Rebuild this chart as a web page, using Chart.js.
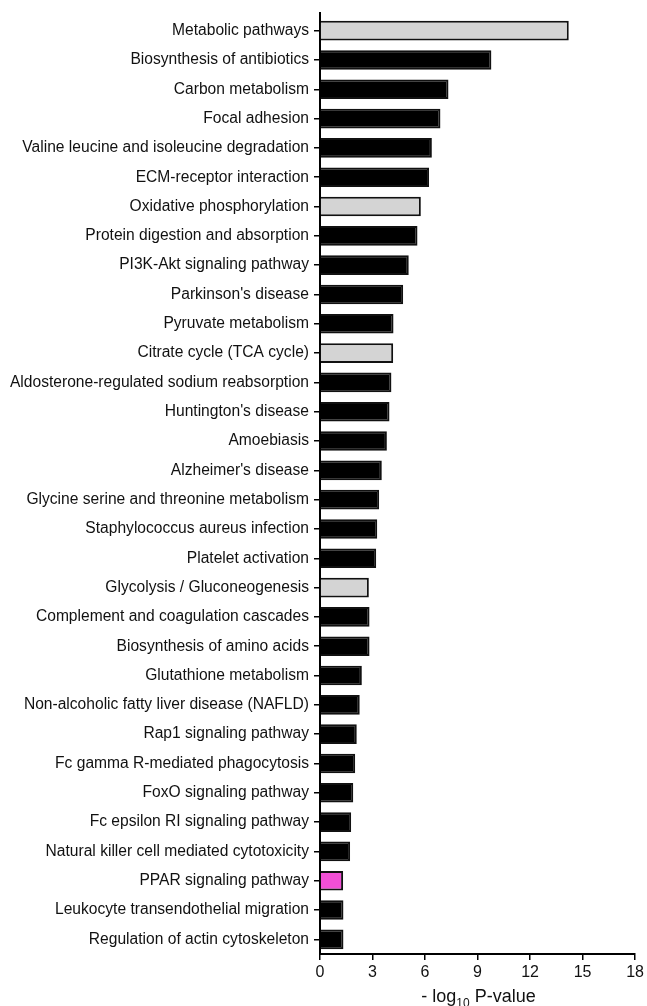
<!DOCTYPE html>
<html><head><meta charset="utf-8">
<script src="https://cdn.jsdelivr.net/npm/chart.js@4/dist/chart.umd.min.js"></script>
<style>html,body{margin:0;padding:0;background:#fff;}#wrap{width:647px;height:1006px;}</style>
</head><body><div id="wrap"><canvas id="c" width="647" height="1006"></canvas></div>
<script>
const categories = [
  'Metabolic pathways','Biosynthesis of antibiotics','Carbon metabolism','Focal adhesion',
  'Valine leucine and isoleucine degradation','ECM-receptor interaction','Oxidative phosphorylation',
  'Protein digestion and absorption','PI3K-Akt signaling pathway',"Parkinson's disease",
  'Pyruvate metabolism','Citrate cycle (TCA cycle)','Aldosterone-regulated sodium reabsorption',
  "Huntington's disease",'Amoebiasis',"Alzheimer's disease",'Glycine serine and threonine metabolism',
  'Staphylococcus aureus infection','Platelet activation','Glycolysis / Gluconeogenesis',
  'Complement and coagulation cascades','Biosynthesis of amino acids','Glutathione metabolism',
  'Non-alcoholic fatty liver disease (NAFLD)','Rap1 signaling pathway','Fc gamma R-mediated phagocytosis',
  'FoxO signaling pathway','Fc epsilon RI signaling pathway','Natural killer cell mediated cytotoxicity',
  'PPAR signaling pathway','Leukocyte transendothelial migration','Regulation of actin cytoskeleton'
];
const values = [
  14.21, 9.79, 7.34, 6.88, 6.39, 6.23, 5.76, 5.57, 5.07, 4.75,
  4.20, 4.18, 4.08, 3.97, 3.82, 3.53, 3.38, 3.27, 3.21, 2.79,
  2.83, 2.83, 2.39, 2.27, 2.10, 2.01, 1.90, 1.78, 1.72, 1.32,
  1.34, 1.34
];
const grayCategories = ['Metabolic pathways','Oxidative phosphorylation','Citrate cycle (TCA cycle)','Glycolysis / Gluconeogenesis'];
const magentaCategories = ['PPAR signaling pathway'];
const xTicks = [0, 3, 6, 9, 12, 15, 18];
const xTitleParts = ['- log', '10', ' P-value'];

const fillFor = c => magentaCategories.includes(c) ? '#F24FD6' : (grayCategories.includes(c) ? '#D4D4D4' : '#000000');

const titlePlugin = {
  id: 'xtitle',
  afterDraw(chart) {
    const ctx = chart.ctx, a = chart.chartArea;
    ctx.save();
    ctx.strokeStyle = '#000'; ctx.lineWidth = 2;
    ctx.beginPath(); ctx.moveTo(a.left, a.top - 4); ctx.lineTo(a.left, a.top + 1); ctx.stroke();
    const big = '18px "Liberation Sans", Arial, sans-serif';
    const small = '12px "Liberation Sans", Arial, sans-serif';
    ctx.fillStyle = '#111'; ctx.textBaseline = 'alphabetic'; ctx.textAlign = 'left';
    ctx.font = big; const w1 = ctx.measureText(xTitleParts[0]).width; const w3 = ctx.measureText(xTitleParts[2]).width;
    ctx.font = small; const w2 = ctx.measureText(xTitleParts[1]).width;
    const total = w1 + w2 + w3;
    let x = (a.left + a.right) / 2 - total / 2 + 1;
    const y = 1002;
    ctx.font = big; ctx.fillText(xTitleParts[0], x, y); x += w1;
    ctx.font = small; ctx.fillText(xTitleParts[1], x, y + 5); x += w2;
    ctx.font = big; ctx.fillText(xTitleParts[2], x, y);
    ctx.restore();
  }
};

new Chart(document.getElementById('c'), {
  type: 'bar',
  data: {
    labels: categories,
    datasets: [{
      data: values,
      backgroundColor: categories.map(fillFor),
      borderColor: '#111',
      borderWidth: 2,
      categoryPercentage: 1,
      barPercentage: 0.67
    }]
  },
  options: {
    indexAxis: 'y',
    responsive: false,
    devicePixelRatio: 1,
    animation: false,
    layout: { padding: { top: 16, right: 11, left: 0, bottom: 0 } },
    plugins: { legend: { display: false }, tooltip: { enabled: false }, title: { display: false } },
    scales: {
      x: {
        type: 'linear', min: 0, max: 18,
        afterBuildTicks: s => { s.ticks = xTicks.map(v => ({ value: v })); },
        afterFit: s => { s.height = 52; },
        ticks: { color: '#111', padding: 3, font: { family: '"Liberation Sans", Arial, sans-serif', size: 16 } },
        grid: { drawOnChartArea: false, drawTicks: true, tickLength: 6, color: '#000', lineWidth: 1.5 },
        border: { display: true, color: '#000', width: 2 }
      },
      y: {
        type: 'category', offset: true,
        afterFit: s => { s.width = 320; },
        ticks: { color: '#111', padding: 5, autoSkip: false, font: { family: '"Liberation Sans", Arial, sans-serif', size: 15.6 } },
        grid: { offset: false, drawOnChartArea: false, drawTicks: true, tickLength: 6, color: '#000', lineWidth: 1.5 },
        border: { display: true, color: '#000', width: 2 }
      }
    }
  },
  plugins: [titlePlugin]
});
</script></body></html>
